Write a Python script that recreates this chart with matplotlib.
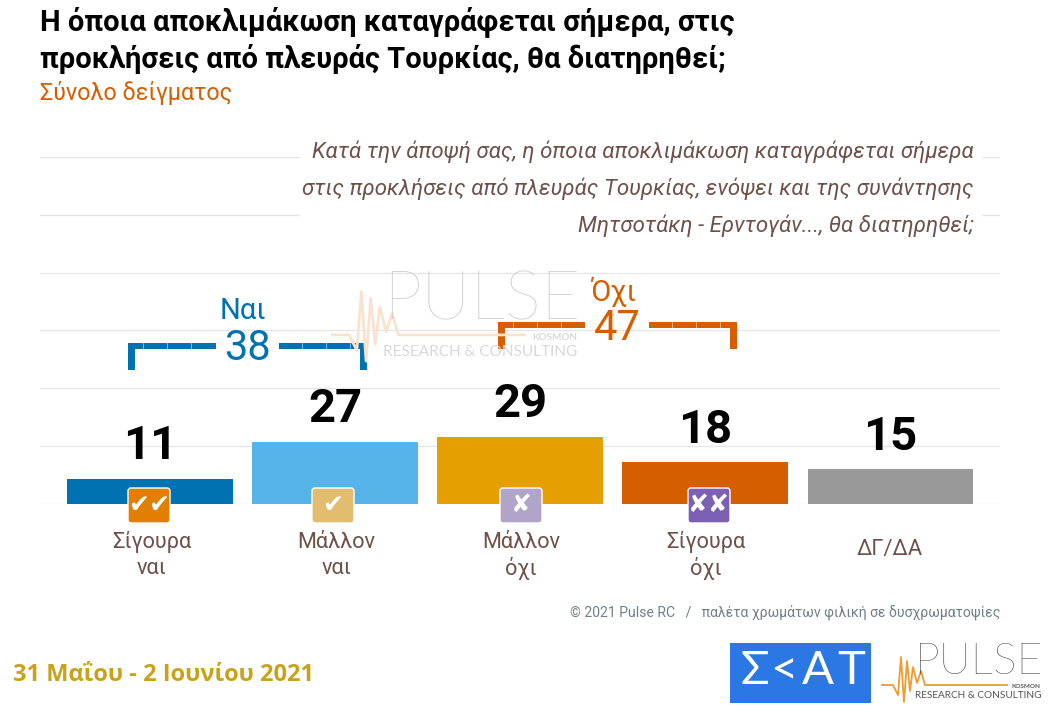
import matplotlib
matplotlib.use("Agg")
import matplotlib.pyplot as plt
from matplotlib.patches import FancyBboxPatch, Rectangle

categories = ["Σίγουρα\nναι", "Μάλλον\nναι", "Μάλλον\nόχι", "Σίγουρα\nόχι", "ΔΓ/ΔΑ"]
values = [11, 27, 29, 18, 15]
bar_colors = ["#0072B2", "#56B4E9", "#E69F00", "#D55E00", "#999999"]
icon_marks = ["✔✔", "✔", "✘", "✘✘"]
icon_colors = ["#E37F00", "#E3BD6F", "#B0A4C8", "#7B60B4"]
yes_total = 38
no_total = 47

W, H = 1054, 713
main_font = ["Roboto", "DejaVu Sans"]
brown = "#6E5149"
blue = "#0072B2"
orange = "#D55E00"

fig = plt.figure(figsize=(W / 100, H / 100), dpi=100)

# bars live in their own axes, one gridline every 25 units
ax = fig.add_axes([40 / W, 1 - 504 / H, 960 / W, 347 / H])
ax.set_xlim(-0.597, 4.592)
ax.set_ylim(0, 150)
ax.bar(range(5), values, width=0.897, color=bar_colors, zorder=2)
ax.set_yticks(range(0, 151, 25))
ax.grid(axis="y", color="#E6E6E6", lw=1, zorder=0)
ax.set_xticks([])
ax.tick_params(left=False, labelleft=False)
for s in ax.spines.values():
    s.set_visible(False)
for i, v in enumerate(values):
    ax.annotate(str(v), (i, v), xytext=(0, 7.5), textcoords="offset points", ha="center", va="bottom",
                fontsize=34, fontweight="bold", family=main_font, color="black", zorder=5)

# everything else is placed in pixels on a transparent overlay
ov = fig.add_axes([0, 0, 1, 1], facecolor="none")
ov.set_xlim(0, W)
ov.set_ylim(H, 0)
ov.axis("off")


def txt(x, y, s, size, color="black", ha="left", **kw):
    kw.setdefault("family", main_font)
    return ov.text(x, y, s, fontsize=size, color=color, ha=ha, va="center", **kw)


def pulse_logo(x, y, s, line_color, text_color, small_color):
    txt(x, y, "PULSE", 32 * s, text_color, family="Lato", fontweight="light")
    px = [-33, -22, -17, -14, -11, -8, -5, -2, 2, 6, 10, 92]
    py = [22, 22, 32, -6, 39, -2, 28, 4, 20, 8, 22, 22]
    ov.plot([x + s * a for a in px], [y + s * b for b in py], color=line_color, lw=1.3 * s)
    txt(x, y + 33 * s, "RESEARCH & CONSULTING", 7.2 * s, small_color, family="Lato")
    txt(x + 126 * s, y + 23.5 * s, "KOSMON", 4.6 * s, small_color, ha="right", family="Lato", fontweight="bold")


def bracket(x0, x1, gap0, gap1, y, drop, color):
    for a, b in [(x0, gap0), (gap1, x1)]:
        ov.add_patch(Rectangle((a, y), b - a, 6, color=color, lw=0))
    ov.add_patch(Rectangle((x0, y), 7, drop, color=color, lw=0))
    ov.add_patch(Rectangle((x1 - 7, y), 7, drop, color=color, lw=0))
    # faint seams between the dashes of the bracket arms
    for k in range(3):
        for sx in (x0 + 15 + 24 * k, gap1 + 23 + 24 * k):
            ov.plot([sx, sx], [y, y + 6], color="white", lw=0.6, alpha=0.6)


# white box that interrupts the gridlines behind the question text
ov.add_patch(Rectangle((300, 134), 682, 104, color="white", lw=0))

pulse_logo(383, 301, 1.54, "#F9E3D0", "#C8C8C8", "#D9D9D9")

txt(40, 22, "Η όποια αποκλιμάκωση καταγράφεται σήμερα, στις", 21, fontweight="bold")
txt(40, 59, "προκλήσεις από πλευράς Τουρκίας, θα διατηρηθεί;", 21, fontweight="bold")
txt(40, 93, "Σύνολο δείγματος", 16.8, orange)

question = ["Κατά την άποψή σας, η όποια αποκλιμάκωση καταγράφεται σήμερα",
            "στις προκλήσεις από πλευράς Τουρκίας, ενόψει και της συνάντησης",
            "Μητσοτάκη - Ερντογάν..., θα διατηρηθεί;"]
for y, line in zip([152, 189, 226], question):
    txt(974, y, line, 16, brown, ha="right", style="italic")

bracket(128, 367, 216, 279, 343, 27, blue)
txt(243, 311, "Ναι", 21, blue, ha="center")
txt(247, 348, str(yes_total), 30, blue, ha="center")
bracket(498, 737, 585, 649, 322, 27, orange)
txt(613, 292, "Όχι", 21, orange, ha="center")
txt(617, 328, str(no_total), 30, orange, ha="center")

centers = [150.5, 335.5, 520, 705, 890]
for cx, cat in zip(centers, categories):
    parts = cat.split("\n")
    if len(parts) == 2:
        txt(cx + 1, 542, parts[0], 15.7, brown, ha="center")
        txt(cx + 1, 568, parts[1], 15.7, brown, ha="center")
    else:
        txt(cx, 549, cat, 15.7, brown, ha="center")

# small rounded icons sitting on the baseline
icon_x = [149, 333, 521, 709]
for cx, mark, col in zip(icon_x, icon_marks, icon_colors):
    ov.add_patch(FancyBboxPatch((cx - 19.5, 489.5), 39, 32, boxstyle="round,pad=1.5,rounding_size=3",
                                fc=col, ec="white", lw=1, zorder=3))
    ov.text(cx, 505, mark, fontsize=18, color="white", ha="center", va="center", family="DejaVu Sans", zorder=4)

txt(1000, 612, "© 2021 Pulse RC   /   παλέτα χρωμάτων φιλική σε δυσχρωματοψίες", 10.1, "#6F8088", ha="right")
txt(13, 675, "31 Μαΐου - 2 Ιουνίου 2021", 17, "#C9A21C", family="Open Sans", fontweight="bold")

ov.add_patch(Rectangle((730, 643), 141, 60, color="#2B78E4", lw=0))
for lx, letter in zip([755, 784, 818, 851], "Σ<ΑΤ"):
    txt(lx, 671, letter, 34, "white", ha="center", family="Lato")
pulse_logo(915, 663, 1.0, "#EE9B2F", "#222222", "#555555")

fig.savefig("out.png", dpi=100)
